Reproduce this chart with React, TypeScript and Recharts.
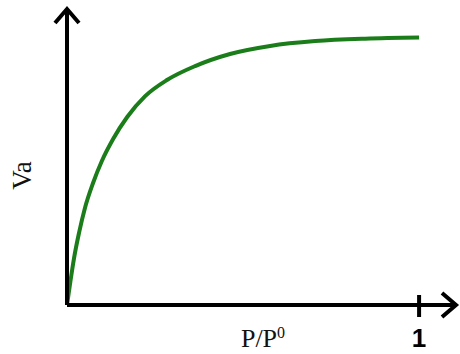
import { LineChart, Line, XAxis, YAxis } from "recharts"

// relative pressure P/P0 and adsorbed volume Va
const pressure = [0, 0.009, 0.02, 0.034, 0.051, 0.074, 0.099, 0.131, 0.171, 0.222, 0.284, 0.364, 0.463, 0.577, 0.705, 0.847, 1.0]
const volume = [0, 0.082, 0.175, 0.268, 0.362, 0.455, 0.537, 0.619, 0.701, 0.779, 0.839, 0.891, 0.936, 0.966, 0.984, 0.993, 0.997]
const xTicks = [1]

const data = pressure.map((p, i) => ({ p, va: volume[i] }))

const serif = "'Liberation Serif', 'Times New Roman', serif"
const sans = "'Liberation Sans', Arial, sans-serif"

// tick mark crosses the axis, label sits below
const PressureTick = (props: any) => {
  const { x, y, payload } = props
  return (
    <g>
      <line x1={x} x2={x} y1={y - 10} y2={y + 12} stroke="#000" strokeWidth={4} />
      <text x={x} y={y + 42} textAnchor="middle" fontFamily={sans} fontWeight="bold" fontSize={26} fill="#000">
        {payload.value}
      </text>
    </g>
  )
}

const XTitle = (props: any) => {
  const { viewBox } = props
  return (
    <text x={viewBox.x + 196} y={viewBox.y + 42} textAnchor="middle" fontFamily={serif} fontSize={26} fill="#111">
      <tspan>P/P</tspan>
      <tspan dy={-9} fontSize={16}>0</tspan>
    </text>
  )
}

const YTitle = (props: any) => {
  const { viewBox } = props
  const cx = viewBox.x - 44
  const cy = viewBox.y + viewBox.height / 2 + 18
  return (
    <text x={cx} y={cy} transform={`rotate(-90, ${cx}, ${cy})`} textAnchor="middle" dominantBaseline="central" fontFamily={serif} fontSize={27} fill="#111">
      Va
    </text>
  )
}

export default function App() {
  return (
    <div style={{ position: "absolute", left: 0, top: 0, background: "#fff" }}>
      <LineChart width={460} height={354} data={data} margin={{ top: 10, right: 5, left: 66, bottom: 0 }}>
        <defs>
          <marker id="arrowHead" markerUnits="userSpaceOnUse" markerWidth={30} markerHeight={30} viewBox="0 0 30 30" refX={16} refY={15} orient="auto-start-reverse">
            <path d="M 3 3 L 17 15 L 3 27" fill="none" stroke="#000" strokeWidth={4} />
          </marker>
        </defs>
        <XAxis
          type="number"
          dataKey="p"
          domain={[0, 1.102]}
          ticks={xTicks}
          height={49}
          tickSize={0}
          tickMargin={0}
          tickLine={false}
          tick={<PressureTick />}
          axisLine={{ stroke: "#000", strokeWidth: 4, markerEnd: "url(#arrowHead)" }}
          label={{ content: <XTitle /> }}
          allowDataOverflow
        />
        <YAxis
          type="number"
          domain={[0, 1.1]}
          width={1}
          tick={false}
          tickLine={false}
          axisLine={{ stroke: "#000", strokeWidth: 4, markerStart: "url(#arrowHead)" }}
          label={{ content: <YTitle /> }}
          allowDataOverflow
        />
        <Line type="monotone" dataKey="va" stroke="#1a7d1a" strokeWidth={4} dot={false} isAnimationActive={false} />
      </LineChart>
    </div>
  )
}
